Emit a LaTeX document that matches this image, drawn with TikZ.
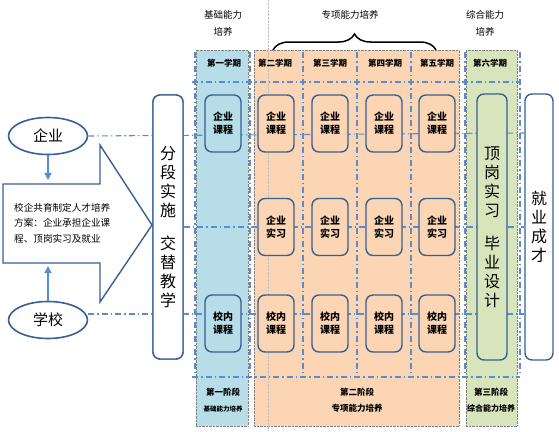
\documentclass[tikz,border=0pt]{standalone}
\usepackage{fontspec}
\setmainfont{Noto Sans CJK SC}
\usepackage{tikz}
\usetikzlibrary{arrows.meta,shapes.geometric,decorations.pathreplacing}
\definecolor{boxblue}{RGB}{55,96,146}
\definecolor{lineblue}{RGB}{90,140,210}
\definecolor{colblue}{RGB}{183,221,232}
\definecolor{colorange}{RGB}{252,213,180}
\definecolor{colgreen}{RGB}{215,228,188}

\begin{document}
\begin{tikzpicture}[x=1pt,y=-1pt,
  column/.style={draw=gray,densely dotted,minimum width=#1,minimum height=376,inner sep=0pt},
  course/.style={draw=boxblue,line width=1.4pt,rounded corners=7pt,minimum width=36,minimum height=57,
    align=center,font=\fontsize{10}{13}\selectfont\bfseries,inner sep=0pt},
  tallbox/.style={draw=boxblue,line width=1.4pt,rounded corners=7pt,minimum width=30,minimum height=266,
    align=center,font=\fontsize{16}{19}\selectfont,inner sep=0pt},
  party/.style={draw=boxblue,line width=1.6pt,ellipse,minimum width=79,minimum height=37,font=\fontsize{15}{15}\selectfont},
  rowline/.style={lineblue,line width=1.1pt,dash pattern=on 6pt off 3pt on 1.5pt off 3pt},
  head/.style={font=\fontsize{8.5}{10}\selectfont\bfseries,inner sep=0pt},
  label/.style={font=\fontsize{9.5}{17}\selectfont,align=center,inner sep=0pt},
  up/.style={lineblue,line width=1.4pt,-{Triangle[length=2.5mm,width=2.5mm]}}]
\useasboundingbox (0,0) rectangle (559,431);

% columns of the three stages
\node[column=52,fill=colblue] (c1) at (222,238) {};
\node[column=205,fill=colorange] (c2) at (356.5,238) {};
\node[column=51,fill=colgreen] (c3) at (491.5,238) {};
\draw[gray!50,densely dotted] (268,0) -- (268,431);

% stage titles
\node[label] (t1) at (223,23) {基础能力\\培养};
\node[label] (t2) at (350,15) {专项能力培养};
\node[label] (t3) at (485,23) {综合能力\\培养};
\draw[line width=1.5pt,decorate,decoration={brace,amplitude=16pt}] (273,50) -- (436,50);

% semesters
\foreach \x/\t in {224/第一学期,275/第二学期,330/第三学期,385/第四学期,437/第五学期,490/第六学期}
  \node[head] at (\x,63) {\t};

% grid
\draw[rowline] (192,82) -- (519,82);
\draw[rowline] (192,377) -- (520,377);
\foreach \x in {195,250,303,357,411,465,520}
  \draw[rowline] (\x,52) -- (\x,372);

% left side
\node[party] (ent) at (48,136) {企业};
\node[party] (sch) at (48,320) {学校};
\draw[boxblue,line width=1.4pt,fill=white]
  (3,184) -- (100,184) -- (100,145) -- (152,225) -- (100,302) -- (100,263) -- (3,263) -- cycle;
\coordinate (atop) at (48,180);
\coordinate (abot) at (48,266);
\draw[up] (ent) -- (atop);
\draw[up] (sch) -- (abot);
\node[font=\fontsize{9.6}{15.5}\selectfont,align=left,anchor=west,inner sep=0pt] (plan) at (14,223)
  {校企共育制定人才培养\\方案：企业承担企业课\\程、顶岗实习及就业};

% row lines
\node[tallbox,fill=white,minimum height=264] (split) at (168,227) {};
\node[tallbox,fill=white,minimum width=28] (job) at (539,227) {就\\业\\成\\才};
\draw[rowline] (ent.east) -- (job.west |- 0,133);
\draw[rowline] (split.east |- 0,227) -- (job.west |- 0,227);
\draw[rowline] (sch.east |- 0,314) -- (job.west |- 0,314);
\node[tallbox,fill=white,minimum height=264] (split2) at (168,227) {分\\段\\实\\施\\[0.9em]交\\替\\教\\学};

% courses
\node[course,fill=colblue] (k1) at (223,123.5) {企业\\课程};
\node[course,fill=colblue] (s1) at (223,323.5) {校内\\课程};
\foreach \x [count=\i from 2] in {276,330,384,437} {
  \node[course,fill=colorange] (k\i) at (\x,123.5) {企业\\课程};
  \node[course,fill=colorange] (p\i) at (\x,227) {企业\\实习};
  \node[course,fill=colorange] (s\i) at (\x,323.5) {校内\\课程};
}
\node[tallbox,fill=colgreen] (post) at (492,227) {顶\\岗\\实\\习\\[0.9em]毕\\业\\设\\计};

% stage names
\node[label,font=\fontsize{8.5}{16}\selectfont\bfseries] (g1) at (223,400)
  {第一阶段\\{\fontsize{6.5}{8}\selectfont 基础能力培养}};
\node[label,font=\fontsize{8.5}{16}\selectfont\bfseries] (g2) at (357,400) {第二阶段\\专项能力培养};
\node[label,font=\fontsize{8.5}{16}\selectfont\bfseries] (g3) at (491,400)
  {第三阶段\\{\fontsize{8}{8}\selectfont 综合能力培养}};
\end{tikzpicture}
\end{document}
